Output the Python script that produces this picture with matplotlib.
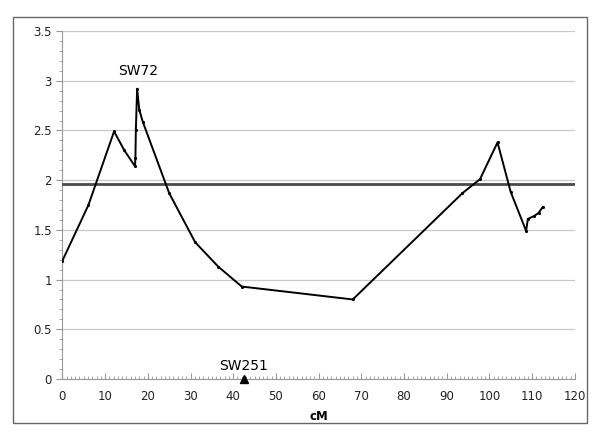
import matplotlib
matplotlib.use("Agg")
import numpy as np
from matplotlib import pyplot as plt
from matplotlib.patches import Rectangle
from matplotlib.ticker import MultipleLocator

# LOD profile
cm = [0, 6.1, 12.1, 14.5, 17.0, 17.1, 17.2, 17.5, 18.0, 18.8, 25.0, 31.1,
      36.5, 42.0, 68.0, 93.7, 97.8, 101.9, 105.0, 108.6, 109.0, 110.5,
      111.5, 112.5]
lod = [1.19, 1.75, 2.49, 2.30, 2.14, 2.22, 2.50, 2.92, 2.71, 2.59, 1.87,
       1.375, 1.13, 0.93, 0.80, 1.87, 2.01, 2.38, 1.88, 1.49, 1.61, 1.64,
       1.67, 1.73]
threshold = 1.96

markers = ["SW72", "SW251"]
marker_cm = [17.8, 42.5]
marker_lod = [2.92, 0.0]

fig = plt.figure(figsize=(6, 4.41), dpi=100)
ax = fig.add_axes([0.104, 0.1406, 0.854, 0.789])

# outer chart border
fig.patches.append(Rectangle((13 / 600, 18 / 441), 574 / 600, 406 / 441,
                             transform=fig.transFigure, fill=False,
                             edgecolor="#666666", linewidth=1))

ax.set_xlim(0, 120)
ax.set_ylim(0, 3.5)
ax.xaxis.set_major_locator(MultipleLocator(10))
ax.xaxis.set_minor_locator(MultipleLocator(1))
ax.yaxis.set_minor_locator(MultipleLocator(0.1))
ax.set_yticks(np.arange(0, 3.51, 0.5))
ax.set_yticklabels(["0", "0.5", "1", "1.5", "2", "2.5", "3", "3.5"])

ax.grid(axis="y", which="major", color="#c8c8c8", linewidth=0.9)
for s in ["top", "right"]:
    ax.spines[s].set_visible(False)
for s in ["left", "bottom"]:
    ax.spines[s].set_color("#999999")
ax.tick_params(axis="both", which="major", labelsize=8.5, colors="#999999",
               labelcolor="#222222", length=4)
ax.tick_params(axis="y", which="minor", length=2, colors="#999999")
ax.tick_params(axis="x", which="minor", length=2, direction="in",
               colors="#999999")
ax.tick_params(axis="x", which="major", direction="in", pad=8)

ax.axhline(threshold, color="#4a4a4a", linewidth=2, zorder=3)
ax.plot(cm, lod, color="black", linewidth=1.4, marker=".", markersize=2.5,
        zorder=4)

ax.text(marker_cm[0], 3.03, markers[0], ha="center", va="bottom", fontsize=10)
ax.plot(marker_cm[1], marker_lod[1], marker="^", color="black",
        markersize=6, clip_on=False, zorder=5)
ax.text(marker_cm[1], 0.06, markers[1], ha="center", va="bottom", fontsize=10)

ax.set_xlabel("cM", fontsize=8.5, fontweight="bold", labelpad=5)

fig.savefig("out.png", dpi=100)
